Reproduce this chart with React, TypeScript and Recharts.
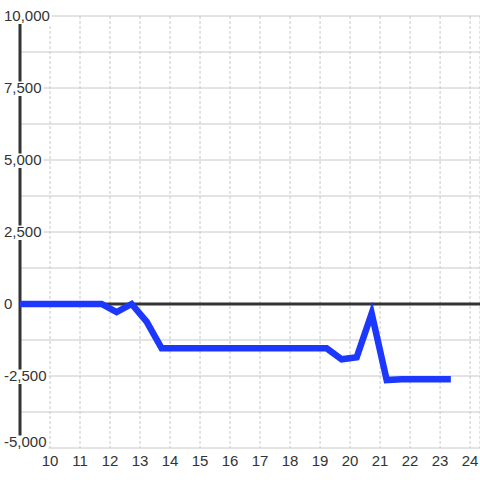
import { LineChart, Line, XAxis, YAxis, CartesianGrid, ReferenceLine } from 'recharts';

const xValues = [9, 11.72, 12.22, 12.72, 13.22, 13.72, 19.22, 19.72, 20.22, 20.72, 21.22, 21.72, 23.25];
const yValues = [0, 0, -280, 0, -610, -1540, -1540, -1920, -1850, -330, -2640, -2610, -2610];
const xTicks = [10, 11, 12, 13, 14, 15, 16, 17, 18, 19, 20, 21, 22, 23, 24];
const yGridTicks = [-5000, -3750, -2500, -1250, 0, 1250, 2500, 3750, 5000, 6250, 7500, 8750, 10000];

const data = xValues.map((x, i) => ({ x, v: yValues[i] }));

const FONT = '"Liberation Sans", Arial, sans-serif';
const W = 480;
const H = 480;
const PLOT_BOTTOM = 448;
const X_AXIS_H = 30;

function textWidth(s: string) {
  let w = 0;
  for (const ch of s) w += ch === ',' ? 4.17 : ch === '-' ? 5 : 8.34;
  return w;
}

function YTick(props: any) {
  const { y, payload } = props;
  const v = Number(payload?.value);
  if (v % 2500 !== 0) return <g />;
  const label = v.toLocaleString('en-US');
  const cy = Math.min(y, PLOT_BOTTOM - 6);
  const w = textWidth(label);
  return (
    <g>
      <rect x={3} y={cy - 6.5} width={w + 3} height={14.5} fill="#ffffff" />
      <text x={4} y={cy} dy={5} textAnchor="start" fill="#333" fontSize={15} fontFamily={FONT}>
        {label}
      </text>
    </g>
  );
}

function XTick(props: any) {
  const { x, payload } = props;
  return (
    <text x={x} y={PLOT_BOTTOM + 12.5} dy={5} textAnchor="middle" fill="#333" fontSize={15} fontFamily={FONT}>
      {payload.value}
    </text>
  );
}

export default function App() {
  return (
    <div style={{ position: 'absolute', left: 0, top: 0, width: W, height: H, background: '#fff' }}>
      <LineChart
        width={W}
        height={H}
        data={data}
        margin={{ top: 16, right: 0, bottom: H - PLOT_BOTTOM - X_AXIS_H, left: 0 }}
      >
        <CartesianGrid vertical={false} stroke="#c8c8c8" strokeWidth={1} />
        <CartesianGrid horizontal={false} stroke="#c8c8c8" strokeDasharray="3 2" strokeWidth={1} />
        <ReferenceLine x={9} stroke="#333" strokeWidth={3} />
        <ReferenceLine y={0} stroke="#333" strokeWidth={3} />
        <Line
          type="linear"
          dataKey="v"
          stroke="#1c38ff"
          strokeWidth={6.5}
          strokeLinecap="square"
          dot={false}
          activeDot={false}
          isAnimationActive={false}
        />
        <XAxis
          dataKey="x"
          type="number"
          domain={[9, 24.33]}
          ticks={xTicks}
          allowDataOverflow
          height={X_AXIS_H}
          axisLine={false}
          tickLine={false}
          interval={0}
          tick={(p: any) => <XTick {...p} />}
        />
        <YAxis
          type="number"
          domain={[-5000, 10000]}
          ticks={yGridTicks}
          width={20}
          axisLine={false}
          tickLine={false}
          interval={0}
          tick={(p: any) => <YTick {...p} />}
        />
      </LineChart>
    </div>
  );
}
